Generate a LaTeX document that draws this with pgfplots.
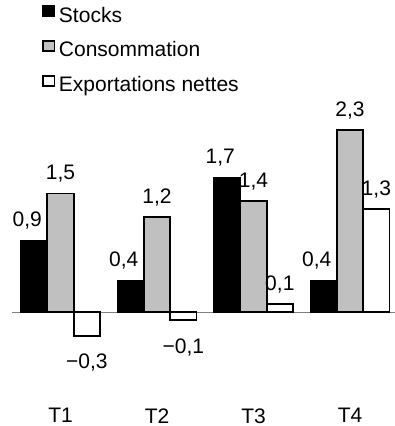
\documentclass[border=0pt]{standalone}
\usepackage{fontspec}
\setmainfont{Liberation Sans}
\usepackage{pgfplots}
\pgfplotsset{compat=1.18}
\definecolor{barfill}{HTML}{C0C0C0}
\definecolor{zeroline}{HTML}{808080}
\begin{document}
\fontsize{21bp}{25bp}\selectfont
\begin{tikzpicture}
\useasboundingbox (-12bp,-26bp) rectangle (383bp,400bp);
\begin{axis}[
  scale only axis,
  width=383bp, height=300bp,
  xmin=-0.503, xmax=3.466, ymin=-1.11, ymax=2.68,
  ybar=0pt, bar width=26.3bp,
  axis line style={draw=none},
  tick style={draw=none},
  ytick=\empty,
  xtick={0,1,2,3},
  xticklabels={T1,T2,T3,T4},
  xticklabel style={font=\fontsize{21bp}{25bp}\selectfont, inner sep=0pt, yshift=-4bp},
  extra y ticks={0},
  extra y tick labels={},
  extra y tick style={grid=major, major grid style={draw=zeroline, line width=1.2bp}},
  point meta=explicit symbolic,
  visualization depends on={rawy \as \rawy},
  nodes near coords,
  every node near coord/.append style={inner sep=0pt, anchor=base,
    yshift={14bp-47bp*(\rawy<0)},
    font=\fontsize{21bp}{25bp}\selectfont},
  legend style={at={(0.0783,1.3167)}, anchor=north west, draw=none, fill=none, inner sep=0pt,
    row sep=13bp, column sep=3.5bp,
    nodes={inner sep=0pt, text height=15.5bp, text depth=5bp, font=\fontsize{21bp}{25bp}\selectfont}},
  legend cell align=left,
  legend image code/.code={\draw[#1, line width=1.8bp] (0.75bp,0.75bp) rectangle (12.25bp,10.75bp);},
]
\addplot[fill=black, draw=black, line width=1.8bp, every node near coord/.append style={xshift=-7bp}]
  coordinates {(0,0.9) [0,9] (1,0.4) [0,4] (2,1.7) [1,7] (3,0.4) [0,4]};
\addplot[fill=barfill, draw=black, line width=1.8bp]
  coordinates {(0,1.5) [1,5] (1,1.2) [1,2] (2,1.4) [1,4] (3,2.3) [2,3]};
\addplot[fill=white, draw=black, line width=1.8bp]
  coordinates {(0,-0.3) [−0,3] (1,-0.1) [−0,1] (2,0.1) [0,1] (3,1.3) [1,3]};
\legend{Stocks, Consommation, Exportations nettes}
\end{axis}
\end{tikzpicture}
\end{document}
